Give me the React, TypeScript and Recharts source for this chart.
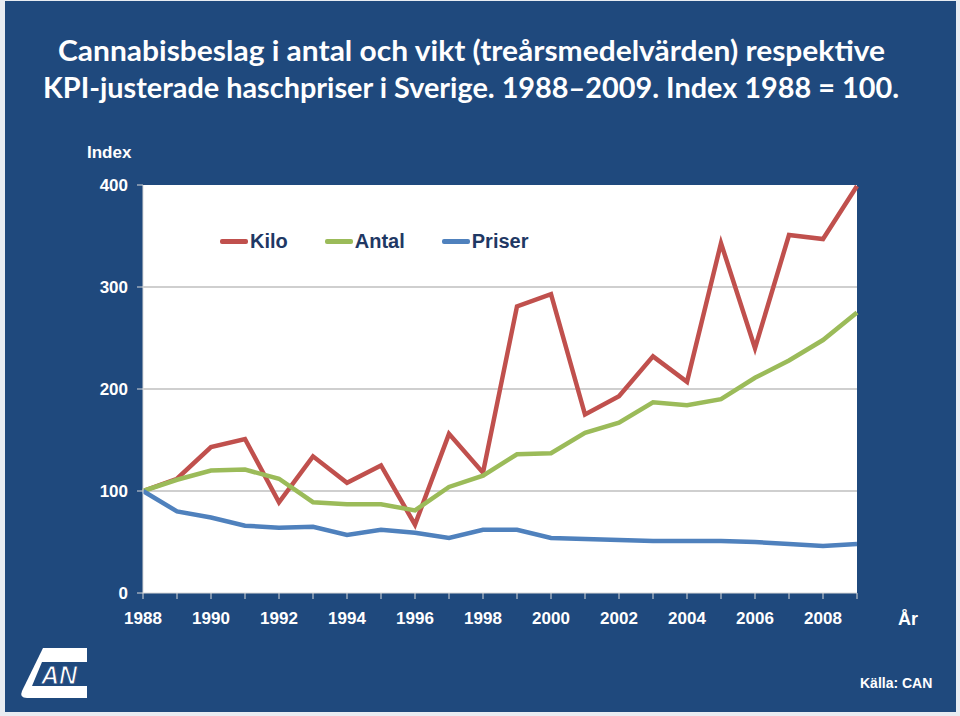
import { LineChart, Line, XAxis, YAxis, CartesianGrid } from "recharts";

const years = [
  1988, 1989, 1990, 1991, 1992, 1993, 1994, 1995, 1996, 1997, 1998, 1999,
  2000, 2001, 2002, 2003, 2004, 2005, 2006, 2007, 2008, 2009,
];
const kilo = [
  100, 112, 143, 151, 89, 134, 108, 125, 67, 156, 118, 281, 293, 175, 193,
  232, 207, 343, 240, 351, 347, 399,
];
const antal = [
  100, 111, 120, 121, 112, 89, 87, 87, 81, 104, 115, 136, 137, 157, 167, 187,
  184, 190, 211, 228, 248, 275,
];
const priser = [
  100, 80, 74, 66, 64, 65, 57, 62, 59, 54, 62, 62, 54, 53, 52, 51, 51, 51, 50,
  48, 46, 48,
];
const yTicks = [0, 100, 200, 300, 400];
const gridValues = [100, 200, 300];

const data = years.map((year, i) => ({
  year,
  kilo: kilo[i],
  antal: antal[i],
  priser: priser[i],
}));

const series = [
  { key: "kilo", name: "Kilo", color: "#C0504D" },
  { key: "antal", name: "Antal", color: "#9BBB59" },
  { key: "priser", name: "Priser", color: "#4F81BD" },
];

const BG = "#1F497D";
const bold = { fontFamily: "Arial, 'Liberation Sans', sans-serif", fontWeight: 700 };

const YearTick = (props: any) => {
  const { x, y, payload } = props;
  if (payload.value % 2 !== 0) return <g />;
  return (
    <text x={x} y={y} dy="0.71em" textAnchor="middle" fill="#fff" fontSize={17} style={bold}>
      {payload.value}
    </text>
  );
};

const App = () => {
  return (
    <div style={{ position: "absolute", left: 0, top: 0, width: 960, height: 716, background: "#E8ECF2" }}>
      <div style={{ position: "absolute", left: 5, top: 1, width: 951, height: 711, background: BG }} />

      <svg width={960} height={120} style={{ position: "absolute", left: 0, top: 0 }}>
        <text x={58} y={61} fill="#fff" fontSize={29} fontFamily="Lato, 'Open Sans', sans-serif" fontWeight={700} textLength={827} lengthAdjust="spacingAndGlyphs">
          Cannabisbeslag i antal och vikt (treårsmedelvärden) respektive
        </text>
        <text x={43} y={98} fill="#fff" fontSize={29} fontFamily="Lato, 'Open Sans', sans-serif" fontWeight={700} textLength={856} lengthAdjust="spacingAndGlyphs">
          KPI-justerade haschpriser i Sverige. 1988–2009. Index 1988 = 100.
        </text>
      </svg>

      <div style={{ ...bold, position: "absolute", left: 87, top: 143, color: "#fff", fontSize: 17 }}>Index</div>
      <div style={{ ...bold, position: "absolute", left: 898, top: 609, color: "#fff", fontSize: 18 }}>År</div>
      <div style={{ ...bold, position: "absolute", left: 860, top: 675, color: "#fff", fontSize: 14 }}>Källa: CAN</div>

      <LineChart
        width={960}
        height={716}
        data={data}
        margin={{ top: 185, right: 103, bottom: 93, left: 103 }}
        style={{ position: "absolute", left: 0, top: 0 }}
      >
        <CartesianGrid vertical={false} horizontalValues={gridValues} stroke="#BFBFBF" strokeWidth={1.5} fill="#FFFFFF" />
        <XAxis
          dataKey="year"
          type="number"
          domain={[1988, 2009]}
          ticks={years}
          interval={0}
          height={30}
          stroke="#D9D9D9"
          tickSize={6}
          tickMargin={13}
          tick={<YearTick />}
        />
        <YAxis
          domain={[0, 400]}
          ticks={yTicks}
          width={40}
          stroke="#D9D9D9"
          tickSize={6}
          tickMargin={9}
          tick={{ fill: "#fff", fontSize: 17, ...bold }}
        />
        {series.map((s) => (
          <Line
            key={s.key}
            type="linear"
            dataKey={s.key}
            name={s.name}
            stroke={s.color}
            strokeWidth={4.5}
            dot={false}
            activeDot={false}
            isAnimationActive={false}
          />
        ))}
      </LineChart>

      <div style={{ position: "absolute", left: 220, top: 230, display: "flex", gap: 37 }}>
        {series.map((s) => (
          <div key={s.key} style={{ display: "flex", alignItems: "center" }}>
            <span style={{ display: "inline-block", width: 28, height: 5, borderRadius: 2, background: s.color, marginRight: 2 }} />
            <span style={{ ...bold, fontSize: 20, color: "#1F3864" }}>{s.name}</span>
          </div>
        ))}
      </div>

      <svg width={90} height={60} style={{ position: "absolute", left: 15, top: 643 }}>
        <path d="M 28 5 L 72 5 L 72 55 L 12 55 Q 4 55 7 48 Z" fill="#fff" />
        <path d="M 27 19 L 72 19 L 72 43 L 17 43 Z" fill={BG} />
        <text x={44} y={41} textAnchor="middle" fill="#fff" fontSize={25} fontStyle="italic" style={bold} stroke={BG} strokeWidth={1}>
          AN
        </text>
      </svg>
    </div>
  );
};

export default App;
